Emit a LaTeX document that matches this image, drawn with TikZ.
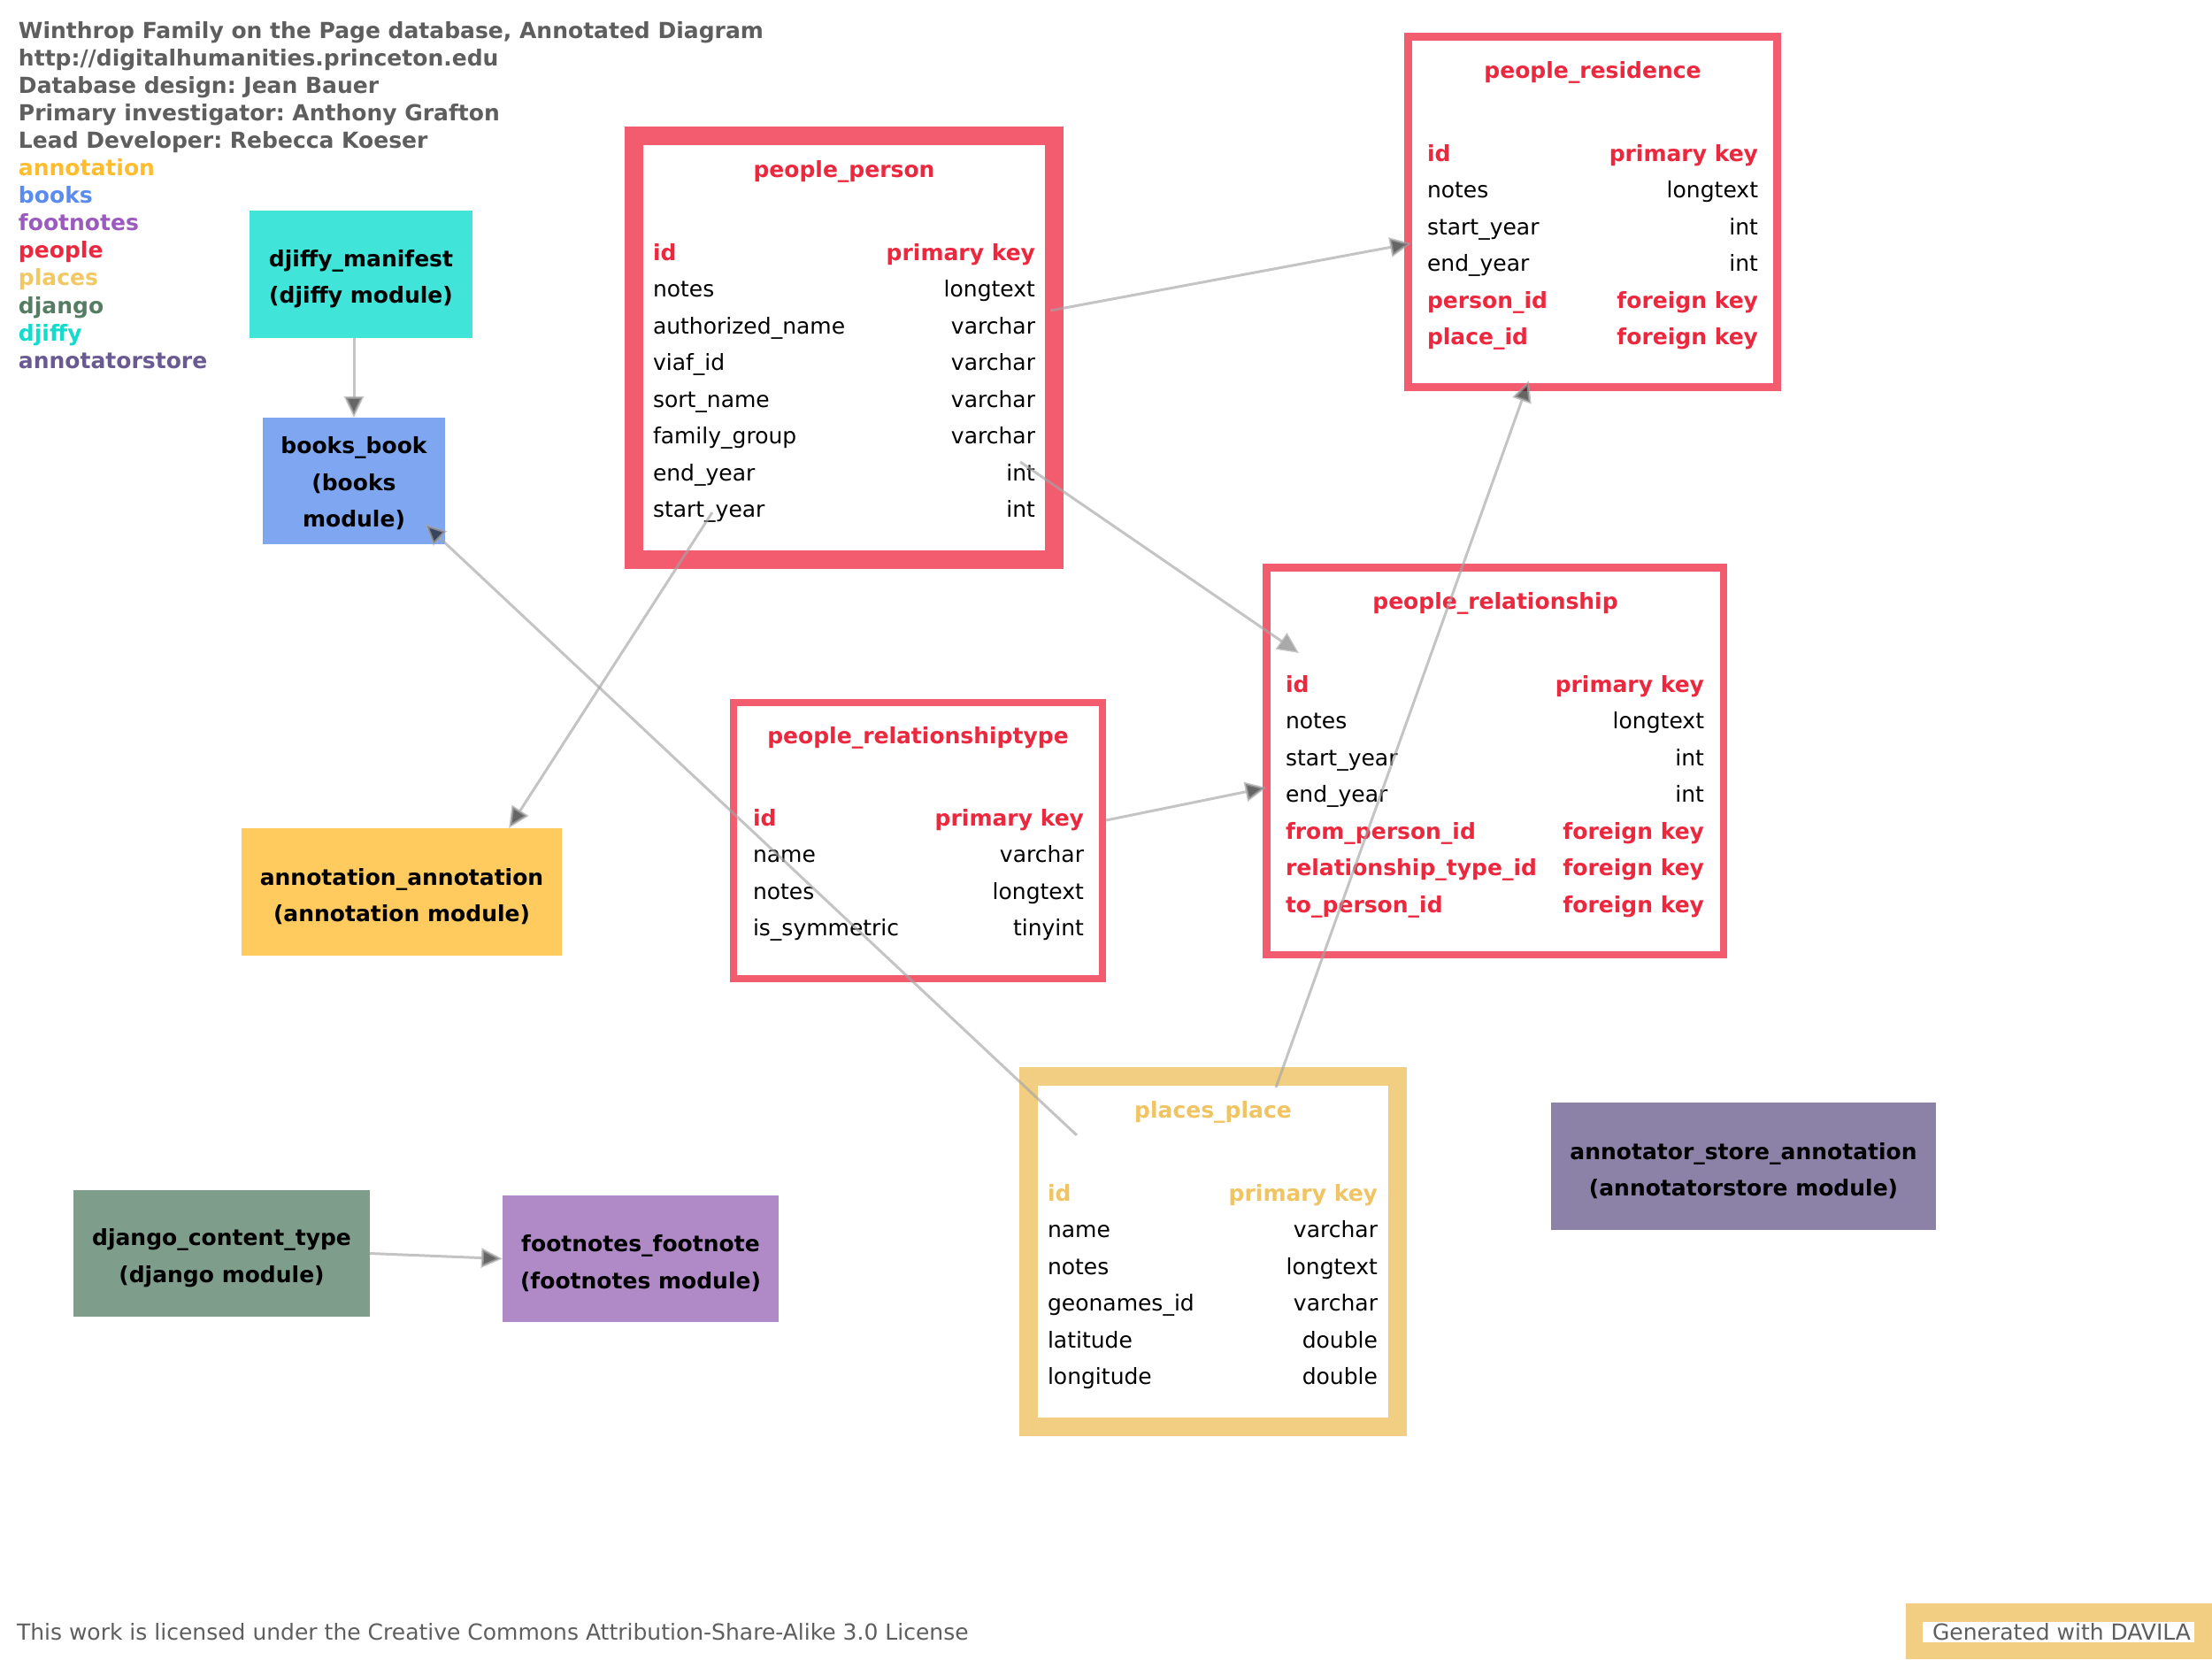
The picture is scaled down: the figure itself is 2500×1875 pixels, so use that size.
\documentclass[tikz,border=0pt]{standalone}
\usepackage{fontspec}
\setmainfont{DejaVu Sans}
\usetikzlibrary{arrows.meta}
\frenchspacing

% Module colours
\definecolor{peopleborder}{RGB}{242,92,110}
\definecolor{peoplered}{RGB}{236,40,62}
\definecolor{placesborder}{RGB}{242,206,130}
\definecolor{placestext}{RGB}{240,196,98}
\definecolor{djiffyfill}{RGB}{64,228,216}
\definecolor{booksfill}{RGB}{127,166,240}
\definecolor{annotfill}{RGB}{255,203,95}
\definecolor{djangofill}{RGB}{127,157,139}
\definecolor{footfill}{RGB}{176,138,199}
\definecolor{storefill}{RGB}{140,129,167}
\definecolor{legendgray}{RGB}{94,94,94}
\definecolor{legannot}{RGB}{255,189,46}
\definecolor{legbooks}{RGB}{90,140,240}
\definecolor{legfoot}{RGB}{155,90,190}
\definecolor{legplaces}{RGB}{240,200,100}
\definecolor{legdjango}{RGB}{85,125,100}
\definecolor{legdjiffy}{RGB}{20,220,205}
\definecolor{legstore}{RGB}{105,90,145}
\definecolor{linegray}{RGB}{165,165,165}
\definecolor{tipgray}{RGB}{18,18,18}
\definecolor{tiplight}{RGB}{125,125,125}

\tikzset{
  txt/.style={font=\fontsize{7.11pt}{11.8pt}\selectfont, inner sep=0pt, outer sep=0pt},
  boldtxt/.style={font=\fontsize{7.11pt}{11.8pt}\selectfont\bfseries, inner sep=0pt, outer sep=0pt},
  fieldtxt/.style={txt, text=black},
  peoplekey/.style={boldtxt, text=peoplered},
  placeskey/.style={boldtxt, text=placestext},
  tablebox/.style={draw=#1, inner sep=0pt, outer sep=0pt},
  modbox/.style={boldtxt, fill=#1, align=center, text=black, text height=0.71cm},
  fk/.style={draw=linegray, line width=0.03cm, opacity=0.65,
    -{Triangle[length=0.24cm, width=0.22cm, fill=tipgray]}},
  fklight/.style={draw=linegray, line width=0.03cm, opacity=0.65,
    -{Triangle[length=0.24cm, width=0.22cm, fill=tiplight]}}
}

\begin{document}
\begin{tikzpicture}[x=0.01cm, y=-0.01cm]
\useasboundingbox (0,0) rectangle (2500,1875);

% Legend
\foreach \txt/\col [count=\i from 0] in {
  {Winthrop Family on the Page database, Annotated Diagram}/legendgray,
  {http://digitalhumanities.princeton.edu}/legendgray,
  {Database design: Jean Bauer}/legendgray,
  {Primary investigator: Anthony Grafton}/legendgray,
  {Lead Developer: Rebecca Koeser}/legendgray,
  {annotation}/legannot, {books}/legbooks, {footnotes}/legfoot,
  {people}/peoplered, {places}/legplaces, {django}/legdjango,
  {djiffy}/legdjiffy, {annotatorstore}/legstore} {
  \node[boldtxt, text=\col, anchor=base west] (legend\i) at (21, 43+31.1*\i) {\txt};
}

% Modules without fields
\node[modbox=djiffyfill, minimum width=2.52cm, minimum height=1.44cm] (djiffy) at (408,310)
  {djiffy\_manifest\\(djiffy module)};
\node[modbox=booksfill, text height=1.08cm, minimum width=2.06cm, minimum height=1.43cm] (books) at (400,543.5)
  {books\_book\\(books\\module)};
\node[modbox=annotfill, minimum width=3.62cm, minimum height=1.44cm] (annotation) at (454,1008)
  {annotation\_annotation\\(annotation module)};
\node[modbox=djangofill, minimum width=3.35cm, minimum height=1.43cm] (django) at (250.5,1416.5)
  {django\_content\_type\\(django module)};
\node[modbox=footfill, minimum width=3.12cm, minimum height=1.43cm] (footnotes) at (724,1422.5)
  {footnotes\_footnote\\(footnotes module)};
\node[modbox=storefill, minimum width=4.35cm, minimum height=1.44cm] (store) at (1970.5,1318)
  {annotator\_store\_annotation\\(annotatorstore module)};

% people_person
\node[tablebox=peopleborder, line width=0.21cm, minimum width=4.75cm, minimum height=4.79cm] (person) at (954,393) {};
\node[peoplekey, anchor=base] (person-title) at (954,200) {people\_person};
\foreach \f/\t/\s [count=\i from 0] in {
  id/primary key/peoplekey, notes/longtext/fieldtxt, authorized\_name/varchar/fieldtxt,
  viaf\_id/varchar/fieldtxt, sort\_name/varchar/fieldtxt, family\_group/varchar/fieldtxt,
  end\_year/int/fieldtxt, start\_year/int/fieldtxt} {
  \node[\s, anchor=base west] (person-f\i) at (738, 294+41.5*\i) {\f};
  \node[\s, anchor=base east] (person-t\i) at (1170, 294+41.5*\i) {\t};
}

% people_residence
\node[tablebox=peopleborder, line width=0.09cm, minimum width=4.165cm, minimum height=3.96cm] (residence) at (1799.75,239.5) {};
\node[peoplekey, anchor=base] (residence-title) at (1800,88) {people\_residence};
\foreach \f/\t/\s [count=\i from 0] in {
  id/primary key/peoplekey, notes/longtext/fieldtxt, start\_year/int/fieldtxt,
  end\_year/int/fieldtxt, person\_id/foreign key/peoplekey, place\_id/foreign key/peoplekey} {
  \node[\s, anchor=base west] (residence-f\i) at (1613, 182+41.5*\i) {\f};
  \node[\s, anchor=base east] (residence-t\i) at (1987, 182+41.5*\i) {\t};
}

% people_relationship
\node[tablebox=peopleborder, line width=0.085cm, minimum width=5.165cm, minimum height=4.375cm] (relationship) at (1689.75,860.25) {};
\node[peoplekey, anchor=base] (relationship-title) at (1690,688) {people\_relationship};
\foreach \f/\t/\s [count=\i from 0] in {
  id/primary key/peoplekey, notes/longtext/fieldtxt, start\_year/int/fieldtxt,
  end\_year/int/fieldtxt, from\_person\_id/foreign key/peoplekey,
  relationship\_type\_id/foreign key/peoplekey, to\_person\_id/foreign key/peoplekey} {
  \node[\s, anchor=base west] (relationship-f\i) at (1453, 782+41.5*\i) {\f};
  \node[\s, anchor=base east] (relationship-t\i) at (1926, 782+41.5*\i) {\t};
}

% people_relationshiptype
\node[tablebox=peopleborder, line width=0.08cm, minimum width=4.17cm, minimum height=3.12cm] (reltype) at (1037.5,950) {};
\node[peoplekey, anchor=base] (reltype-title) at (1037.5,840) {people\_relationshiptype};
\foreach \f/\t/\s [count=\i from 0] in {
  id/primary key/peoplekey, name/varchar/fieldtxt, notes/longtext/fieldtxt,
  is\_symmetric/tinyint/fieldtxt} {
  \node[\s, anchor=base west] (reltype-f\i) at (851, 933+41.5*\i) {\f};
  \node[\s, anchor=base east] (reltype-t\i) at (1225, 933+41.5*\i) {\t};
}

% places_place
\node[tablebox=placesborder, line width=0.21cm, minimum width=4.17cm, minimum height=3.96cm] (places) at (1371,1414.5) {};
\node[placeskey, anchor=base] (places-title) at (1371,1263) {places\_place};
\foreach \f/\t/\s [count=\i from 0] in {
  id/primary key/placeskey, name/varchar/fieldtxt, notes/longtext/fieldtxt,
  geonames\_id/varchar/fieldtxt, latitude/double/fieldtxt, longitude/double/fieldtxt} {
  \node[\s, anchor=base west] (places-f\i) at (1184, 1357+41.5*\i) {\f};
  \node[\s, anchor=base east] (places-t\i) at (1557, 1357+41.5*\i) {\t};
}

% Foreign keys
\draw[fk] (djiffy.south -| books.north) -- (books.north);
\draw[fk] ([xshift=-0.045cm,yshift=0.42cm]person.east) -- ([xshift=0.035cm,yshift=-0.355cm]residence.west);
\draw[fklight] ([xshift=-0.385cm,yshift=-1.29cm]person.east) -- ([xshift=0.365cm,yshift=-0.965cm]relationship.north west);
\draw[fk] ([xshift=0.885cm,yshift=0.535cm]person.south west) -- ([xshift=1.21cm]annotation.north);
\draw[fk] ([xshift=0.545cm,yshift=-0.665cm]places.north west) -- ([xshift=-0.23cm,yshift=0.23cm]books.south east);
\draw[fk] ([xshift=0.71cm,yshift=-0.125cm]places.north) -- ([xshift=-0.7175cm,yshift=0.075cm]residence.south);
\draw[fk] ([xshift=0.04cm,yshift=0.23cm]reltype.east) -- ([yshift=-0.2975cm]relationship.west);
\draw[fk] (django.east) -- (footnotes.west);

% Footer
\node[txt, text=legendgray, anchor=base west] (licence) at (19,1853)
  {This work is licensed under the Creative Commons Attribution-Share-Alike 3.0 License};
\fill[placesborder] (2154,1812) rectangle (2500,1875);
\fill[white] (2173,1833) rectangle (2480,1856);
\node[txt, text=legendgray, anchor=base west] (davila) at (2184,1853) {Generated with DAVILA};
\end{tikzpicture}
\end{document}
